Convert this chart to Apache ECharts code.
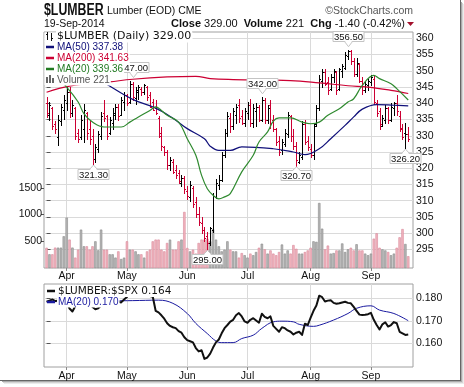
<!DOCTYPE html>
<html><head><meta charset="utf-8">
<script src="https://cdn.jsdelivr.net/npm/echarts@6/dist/echarts.min.js"></script>
<style>html,body{margin:0;padding:0;background:#fff}#c{width:464px;height:387px}</style>
</head><body><div id="c"></div>
<script>
// ---- data (bar index 0 = 21-Mar-2014 ... 126 = 19-Sep-2014) ----
const monthIdx = [7, 28, 49, 70, 92, 113];
const monthNames = ['Apr', 'May', 'Jun', 'Jul', 'Aug', 'Sep'];
const priceTicks = [295, 300, 305, 310, 315, 320, 325, 330, 335, 340, 345, 350, 355, 360];
const volTicks = [500, 1000, 1500];
const ratioTicks = [0.16, 0.17, 0.18];

const opens = [
340.0,336.5,338.5,333.5,329.5,334.5,338.0,340.0,343.5,337.0,
338.5,331.0,329.5,332.0,337.0,332.0,330.0,323.0,326.0,330.0,
337.0,336.0,331.0,334.0,336.5,339.0,336.5,340.5,342.5,340.5,
346.0,341.5,343.5,344.5,343.5,345.0,342.5,340.5,338.5,335.5,
331.0,326.5,325.0,321.0,322.0,319.5,318.5,315.5,317.0,313.0,
311.0,314.0,309.5,306.0,303.0,301.0,299.0,297.0,301.0,311.0,
315.0,316.5,324.0,331.0,335.5,333.0,336.5,339.5,336.0,334.0,
337.0,339.5,334.0,337.5,339.0,335.0,341.0,335.0,339.5,335.0,
332.0,328.5,325.5,327.5,330.5,336.0,330.0,327.0,322.0,323.5,
333.5,328.5,326.0,324.0,333.5,338.5,347.0,349.5,346.5,344.5,
348.0,349.5,344.5,350.0,351.0,354.5,356.0,353.0,349.0,352.0,
347.0,344.0,345.5,346.5,347.5,340.0,337.5,333.0,335.0,338.5,
335.0,338.5,340.0,336.0,332.5,331.0,330.5];
const highs = [
341.9,340.5,338.8,334.5,336.3,339.9,342.5,345.0,345.0,341.0,
339.0,332.2,336.3,339.9,337.3,334.8,332.2,327.5,331.5,337.3,
340.9,336.3,335.8,338.4,339.9,339.9,341.9,343.5,343.0,347.0,
346.5,345.0,345.5,345.0,345.8,345.2,343.5,341.4,341.0,336.0,
332.7,327.0,325.5,323.5,323.0,321.0,319.5,318.0,317.5,314.5,
316.0,314.5,311.0,308.0,305.0,302.0,300.5,302.0,312.5,316.8,
317.8,325.0,332.0,337.3,337.0,338.5,339.9,341.4,338.0,338.5,
340.4,341.4,339.9,340.0,339.5,342.0,341.5,339.5,341.0,336.5,
332.5,330.0,329.0,332.0,337.3,336.3,332.0,328.0,325.0,334.5,
335.0,330.0,327.5,334.0,339.4,348.6,350.7,350.5,348.0,349.0,
350.7,350.0,351.0,352.0,355.8,356.5,356.3,354.0,354.0,352.5,
348.0,346.6,347.5,348.6,348.6,341.0,338.4,336.5,339.5,339.0,
340.0,340.5,342.4,337.5,333.5,334.0,332.7];
const lows = [
335.8,335.0,332.2,331.0,327.1,333.2,335.3,337.8,335.8,336.0,
329.0,328.1,329.0,328.1,329.1,327.6,321.3,322.0,325.0,329.1,
334.5,329.1,330.6,332.2,335.3,334.8,336.3,337.8,339.5,340.0,
341.0,339.9,341.4,342.5,343.0,341.0,338.9,337.8,336.8,329.6,
325.5,324.0,319.9,319.5,318.5,317.0,315.5,314.5,312.5,310.5,
310.0,308.0,305.0,302.5,300.0,297.5,295.0,296.5,300.5,310.7,
313.7,316.0,323.5,330.0,331.2,332.2,334.0,334.2,333.5,333.0,
335.3,333.0,332.8,333.0,334.5,334.5,334.0,334.0,332.5,331.5,
327.1,324.0,324.5,327.0,329.5,328.5,326.0,320.7,321.5,323.0,
327.5,325.5,323.5,323.0,333.0,338.0,345.0,345.5,343.0,344.0,
346.5,343.0,344.0,348.0,350.5,353.5,352.0,348.5,348.5,346.5,
343.0,343.5,344.0,345.5,339.9,336.0,332.2,333.0,334.0,334.0,
334.5,336.5,336.5,331.5,329.0,326.2,328.5];
const closes = [
337.0,339.5,333.0,332.0,335.0,339.0,341.0,343.5,337.0,339.5,
330.0,329.0,335.0,338.0,331.0,329.0,323.0,326.5,330.5,336.0,
335.5,330.0,335.0,337.0,339.0,336.0,341.0,342.5,340.0,346.0,
342.0,344.0,345.0,343.5,345.5,342.0,339.0,338.0,337.0,330.0,
327.0,325.0,321.0,322.5,319.0,318.0,316.0,317.0,313.5,311.5,
315.0,309.0,306.0,303.5,301.0,298.5,297.0,301.5,311.5,315.5,
316.5,324.0,331.0,336.0,333.0,337.5,339.0,335.5,334.0,337.5,
339.5,334.0,338.5,339.0,335.0,341.0,335.0,338.5,334.0,332.0,
328.0,325.0,328.0,331.0,336.5,330.0,327.0,322.5,324.0,333.5,
328.0,326.5,324.0,333.0,338.5,347.5,349.5,346.0,344.0,348.0,
350.0,344.0,350.5,351.5,355.0,356.0,353.0,349.0,352.5,347.0,
344.0,346.0,347.0,348.0,340.5,337.0,333.5,335.5,338.5,335.0,
339.0,340.0,337.5,332.0,329.5,330.4,329.0];
const volumes = [
380,257,257,382,382,382,594,944,532,382,
195,344,719,407,407,344,407,500,332,719,
344,344,257,257,195,312,169,195,500,344,
344,312,257,257,195,312,344,500,532,532,
344,312,469,532,344,344,500,532,1050,375,
312,344,270,469,532,532,550,500,725,532,
407,312,344,500,344,312,312,195,280,240,
195,270,240,300,380,455,350,270,330,270,
240,300,440,270,330,270,430,360,270,270,
300,330,380,500,490,1218,737,350,420,270,
280,330,330,460,300,350,380,330,445,330,
330,270,240,270,550,650,380,350,330,300,
240,270,380,575,730,450,221];
// moving averages at sample bars: [bar, value]
const ma50 = [[0,353.0],[8,351.5],[14,349.0],[20,346.3],[30,341.2],[38,338.5],[44,335.4],[49,332.2],[55,329.1],[57,326.8],[60,325.5],[64,325.5],[68,326.6],[79,326.0],[86,325.0],[90,324.2],[95,326.0],[99,329.1],[104,333.2],[107,335.8],[110,338.2],[115,339.6],[121,339.4],[126,339.2]];
const ma200 = [[0,343.4],[8,345.3],[22,346.6],[30,347.4],[42,348.1],[52,348.3],[57,347.6],[65,347.3],[85,347.0],[95,346.3],[105,345.4],[112,345.0],[120,344.0],[126,343.0]];
const ma20 = [[0,348.0],[4,347.5],[7,345.0],[11,340.4],[13,336.8],[16,334.2],[20,332.7],[26,332.7],[29,334.2],[32,335.8],[36,337.8],[38,338.9],[40,337.8],[42,336.3],[46,334.2],[49,329.1],[52,324.0],[54,317.8],[56,313.7],[58,311.7],[60,310.6],[62,311.2],[64,312.2],[68,318.9],[72,324.0],[74,328.1],[77,331.2],[79,334.5],[81,335.5],[85,335.5],[89,334.2],[92,333.7],[95,334.2],[98,336.3],[102,338.3],[105,340.4],[107,341.4],[110,345.5],[114,348.6],[116,347.6],[120,346.0],[122,344.5],[126,341.0]];
// $LUMBER:$SPX ratio, one value per bar
const ratio = [
0.1785,0.1790,0.1795,0.1788,0.1790,0.1785,0.1792,0.1780,0.1755,0.1742,
0.1765,0.1780,0.1790,0.1792,0.1785,0.1780,0.1762,0.1752,0.1756,0.1768,
0.1780,0.1788,0.1785,0.1790,0.1792,0.1785,0.1782,0.1795,0.1806,0.1825,
0.1830,0.1835,0.1840,0.1835,0.1832,0.1822,0.1810,0.1807,0.1745,0.1738,
0.1725,0.1710,0.1690,0.1678,0.1672,0.1668,0.1655,0.1648,0.1628,0.1615,
0.1610,0.1605,0.1580,0.1565,0.1570,0.1532,0.1538,0.1555,0.1582,0.1605,
0.1618,0.1645,0.1668,0.1682,0.1697,0.1705,0.1725,0.1735,0.1720,0.1698,
0.1692,0.1705,0.1712,0.1702,0.1692,0.1732,0.1718,0.1712,0.1720,0.1678,
0.1665,0.1652,0.1672,0.1668,0.1658,0.1652,0.1640,0.1648,0.1652,0.1638,
0.1688,0.1682,0.1715,0.1745,0.1768,0.1812,0.1805,0.1786,0.1790,0.1792,
0.1780,0.1776,0.1778,0.1782,0.1785,0.1780,0.1778,0.1762,0.1745,0.1728,
0.1726,0.1727,0.1730,0.1736,0.1705,0.1682,0.1662,0.1685,0.1694,0.1675,
0.1682,0.1695,0.1690,0.1652,0.1645,0.1638,0.1640];
const ratioMA = [[0,0.1785],[23,0.1789],[30,0.1790],[39,0.1792],[44,0.1778],[49,0.1733],[52,0.1689],[56,0.1644],[59,0.1611],[61,0.1604],[65,0.1604],[68,0.1622],[72,0.1637],[75,0.1667],[79,0.1696],[82,0.1699],[86,0.1696],[88,0.1685],[93,0.1676],[95,0.1681],[100,0.1704],[105,0.1733],[108,0.1756],[113,0.1767],[116,0.1748],[121,0.1733],[126,0.1701]];
// annotated highs / lows: bar, value, side (1 above, -1 below)
const annIdx = [16, 30, 56, 75, 87, 105, 125];
const annVal = [321.30, 347.00, 295.00, 342.00, 320.70, 356.50, 326.20];
const annSide = [-1, 1, -1, 1, -1, 1, -1];

// ---- build ----
const RED = '#cc0033';
const up = closes.map((c, i) => i === 0 ? c >= opens[0] : c >= closes[i - 1]);
const ohlcData = closes.map((c, i) => [i, opens[i], highs[i], lows[i], c, up[i] ? 1 : 0]);
const volData = volumes.map((v, i) => ({
  value: [i, v],
  itemStyle: up[i] ? {color: '#b6b6b6', borderColor: '#8a8a8a', borderWidth: 0.6}
                   : {color: '#f1b5be', borderColor: '#d9889a', borderWidth: 0.6}
}));
const annData = annIdx.map((x, k) => [x, annVal[k], annSide[k]]);
const FONT = 'Liberation Sans, Arial, sans-serif';

function renderOHLC(params, api) {
  const i = api.value(0);
  const pO = api.coord([i, api.value(1)]);
  const pH = api.coord([i, api.value(2)]);
  const pL = api.coord([i, api.value(3)]);
  const pC = api.coord([i, api.value(4)]);
  const color = api.value(5) ? '#000000' : RED;
  const cx = Math.round(pH[0]) + 0.5;
  const oy = Math.round(pO[1]) + 0.5, cy = Math.round(pC[1]) + 0.5;
  return {type: 'group', children: [
    {type: 'line', shape: {x1: cx, y1: Math.round(pH[1]), x2: cx, y2: Math.round(pL[1]) + 1}, style: {stroke: color, lineWidth: 1}},
    {type: 'line', shape: {x1: cx - 1.5, y1: oy, x2: cx, y2: oy}, style: {stroke: color, lineWidth: 1}},
    {type: 'line', shape: {x1: cx, y1: cy, x2: cx + 1.5, y2: cy}, style: {stroke: color, lineWidth: 1}}
  ]};
}
function renderAnn(params, api) {
  const i = api.value(0), v = api.value(1), side = api.value(2);
  const p = api.coord([i, v]);
  const x = Math.round(p[0]) + 0.5;
  const w = 31, h = 10;
  let tipY, baseY, boxY;
  if (side > 0) { tipY = p[1] - 3; baseY = tipY - 6; boxY = baseY - h; }
  else { tipY = p[1] + 1; baseY = tipY + 3.5; boxY = baseY; }
  boxY = Math.round(boxY) + 0.5;
  return {type: 'group', children: [
    {type: 'rect', shape: {x: x - w / 2, y: boxY, width: w, height: h}, style: {fill: '#fff', stroke: '#c4c4c4', lineWidth: 1}},
    {type: 'polygon', shape: {points: [[x - 4, side > 0 ? boxY + h : boxY], [x + 4, side > 0 ? boxY + h : boxY], [x, tipY]]}, style: {fill: '#fff', stroke: '#c4c4c4', lineWidth: 1}},
    {type: 'line', shape: {x1: x - 3.2, y1: side > 0 ? boxY + h : boxY, x2: x + 3.2, y2: side > 0 ? boxY + h : boxY}, style: {stroke: '#fff', lineWidth: 1.2}},
    {type: 'text', x: x, y: boxY + h / 2 + 0.5, style: {text: v.toFixed(2), fill: '#111', font: '9.5px ' + FONT, align: 'center', verticalAlign: 'middle'}}
  ]};
}

const xAxisCommon = (gi, margin) => ({
  type: 'value', gridIndex: gi, min: -0.9, max: 127.66,
  axisLine: {show: false},
  axisTick: {show: true, customValues: monthIdx, length: 3, lineStyle: {color: '#888'}},
  axisLabel: {customValues: monthIdx, margin: margin, color: '#111', fontSize: 10.5, fontFamily: FONT,
    formatter: v => monthNames[monthIdx.indexOf(v)] || ''},
  splitLine: {show: true, lineStyle: {color: '#dadada', width: 1}}
});

function legendText(x, y, text, color, font) {
  return {type: 'text', x: x, y: y, z: 100, style: {text: text, fill: color, font: font, verticalAlign: 'middle', backgroundColor: '#fff', padding: [1, 1, 0, 1]}};
}
function legendLine(x, y, color, w) {
  return {type: 'line', z: 101, shape: {x1: x, y1: y, x2: x + 8, y2: y}, style: {stroke: color, lineWidth: w || 2.5}};
}

const graphic = [
  // header
  {type: 'text', x: 44, y: 3, scaleX: 0.77, style: {text: '$LUMBER', font: 'bold 16px ' + FONT, fill: '#111'}},
  {type: 'text', x: 107, y: 11, style: {text: 'Lumber (EOD) CME', font: '10.5px ' + FONT, fill: '#111', verticalAlign: 'middle'}},
  {type: 'text', x: 413, y: 11, style: {text: '\u00a9StockCharts.com', font: '10.5px ' + FONT, fill: '#555', align: 'right', verticalAlign: 'middle'}},
  {type: 'text', x: 44, y: 24, style: {text: '19-Sep-2014', font: '10.5px ' + FONT, fill: '#111', verticalAlign: 'middle'}},
  {type: 'text', x: 405, y: 24, style: {text: '{b|Close} 329.00  {b|Volume} 221  {b|Chg} -1.40 (-0.42%)', font: '11px ' + FONT, fill: '#111', align: 'right', verticalAlign: 'middle',
    rich: {b: {font: 'bold 11px ' + FONT, fill: '#111'}}}},
  {type: 'polygon', shape: {points: [[407, 22], [414, 22], [410.5, 26]]}, style: {fill: '#a3102c'}},
  // top legend (opaque block)
  {type: 'rect', z: 99, shape: {x: 44.5, y: 32.5, width: 148, height: 9}, style: {fill: '#fff'}},
  {type: 'rect', z: 99, shape: {x: 44.5, y: 41, width: 62, height: 44}, style: {fill: '#fff'}},
  {type: 'line', z: 101, shape: {x1: 47.5, y1: 32, x2: 47.5, y2: 40}, style: {stroke: '#111', lineWidth: 1}},
  {type: 'line', z: 101, shape: {x1: 46, y1: 34.5, x2: 47.5, y2: 34.5}, style: {stroke: '#111', lineWidth: 1}},
  {type: 'line', z: 101, shape: {x1: 51.5, y1: 33, x2: 51.5, y2: 41}, style: {stroke: '#111', lineWidth: 1}},
  {type: 'line', z: 101, shape: {x1: 51.5, y1: 38.5, x2: 53, y2: 38.5}, style: {stroke: '#111', lineWidth: 1}},
  legendText(56, 36.5, '$LUMBER (Daily) 329.00', '#111', '11px DejaVu Sans, sans-serif'),
  legendLine(46, 47, '#10107a'), legendText(56, 47, 'MA(50) 337.38', '#10107a', '10px ' + FONT),
  legendLine(46, 58, RED), legendText(56, 58, 'MA(200) 341.63', RED, '10px ' + FONT),
  legendLine(46, 69, '#217a21'), legendText(56, 69, 'MA(20) 339.36', '#217a21', '10px ' + FONT),
  {type: 'rect', z: 101, shape: {x: 46, y: 77, width: 2, height: 6}, style: {fill: '#666'}},
  {type: 'rect', z: 101, shape: {x: 49, y: 75, width: 2, height: 8}, style: {fill: '#666'}},
  {type: 'rect', z: 101, shape: {x: 52, y: 78, width: 2, height: 5}, style: {fill: '#666'}},
  legendText(56, 80, 'Volume 221', '#555', '10px ' + FONT),
  // bottom legend
  legendLine(47, 291, '#111'), legendText(57, 291, '$LUMBER:$SPX 0.164', '#111', '10.5px DejaVu Sans, sans-serif'),
  legendLine(47, 302, '#1a1aa0'), legendText(57, 302, 'MA(20) 0.170', '#1a1aa0', '10px ' + FONT),
  // image frame shadow
  {type: 'line', shape: {x1: 460.5, y1: 0, x2: 460.5, y2: 381}, style: {stroke: '#666', lineWidth: 1}},
  {type: 'line', shape: {x1: 0, y1: 380.5, x2: 461, y2: 380.5}, style: {stroke: '#666', lineWidth: 1}},
  {type: 'line', shape: {x1: 461.5, y1: 2, x2: 461.5, y2: 382}, style: {stroke: '#aaa', lineWidth: 1}},
  {type: 'line', shape: {x1: 2, y1: 381.5, x2: 462, y2: 381.5}, style: {stroke: '#aaa', lineWidth: 1}},
  {type: 'line', shape: {x1: 462.5, y1: 3, x2: 462.5, y2: 383}, style: {stroke: '#d4d4d4', lineWidth: 1}},
  {type: 'line', shape: {x1: 3, y1: 382.5, x2: 463, y2: 382.5}, style: {stroke: '#d4d4d4', lineWidth: 1}},
  {type: 'line', shape: {x1: 463.5, y1: 4, x2: 463.5, y2: 384}, style: {stroke: '#ececec', lineWidth: 1}},
  {type: 'line', shape: {x1: 4, y1: 383.5, x2: 464, y2: 383.5}, style: {stroke: '#ececec', lineWidth: 1}}
];

const option = {
  animation: false,
  backgroundColor: '#fff',
  grid: [
    {left: 44, top: 32, width: 369, height: 236, show: true, borderColor: '#a0a0a0', borderWidth: 1},
    {left: 44, top: 284, width: 369, height: 83, show: true, borderColor: '#a0a0a0', borderWidth: 1}
  ],
  xAxis: [xAxisCommon(0, 3), xAxisCommon(1, 4)],
  yAxis: [
    {type: 'value', gridIndex: 0, position: 'right', min: 289.3, max: 361.94,
      axisLine: {show: false},
      axisTick: {show: true, customValues: priceTicks, length: 4, lineStyle: {color: '#555'}},
      axisLabel: {customValues: priceTicks, margin: 3, color: '#111', fontSize: 10.5, fontFamily: FONT},
      splitLine: {show: true, lineStyle: {color: '#dadada'}}},
    {type: 'value', gridIndex: 0, position: 'left', min: 0, max: 4419,
      axisLine: {show: false},
      axisTick: {show: true, customValues: volTicks, length: 3, lineStyle: {color: '#555'}},
      axisLabel: {customValues: volTicks, margin: 2, color: '#111', fontSize: 10.5, fontFamily: FONT, formatter: v => String(v)},
      splitLine: {show: false}},
    {type: 'value', gridIndex: 1, position: 'right', min: 0.1496, max: 0.18636,
      axisLine: {show: false},
      axisTick: {show: true, customValues: ratioTicks, length: 4, lineStyle: {color: '#555'}},
      axisLabel: {customValues: ratioTicks, margin: 3, color: '#111', fontSize: 10.5, fontFamily: FONT, formatter: v => v.toFixed(3)},
      splitLine: {show: true, lineStyle: {color: '#dadada'}}}
  ],
  series: [
    {type: 'bar', xAxisIndex: 0, yAxisIndex: 1, data: volData, barWidth: 2.4, z: 1, silent: true},
    {type: 'custom', xAxisIndex: 0, yAxisIndex: 0, renderItem: renderOHLC, data: ohlcData, encode: {x: 0, y: [2, 3]}, z: 3, clip: true, silent: true},
    {type: 'line', xAxisIndex: 0, yAxisIndex: 0, data: ma200, smooth: 0.4, showSymbol: false, lineStyle: {color: RED, width: 1.2}, z: 4, silent: true},
    {type: 'line', xAxisIndex: 0, yAxisIndex: 0, data: ma50, smooth: 0.4, showSymbol: false, lineStyle: {color: '#10107a', width: 1.2}, z: 4, silent: true},
    {type: 'line', xAxisIndex: 0, yAxisIndex: 0, data: ma20, smooth: 0.4, showSymbol: false, lineStyle: {color: '#2f8a2f', width: 1.2}, z: 4, silent: true},
    {type: 'custom', xAxisIndex: 0, yAxisIndex: 0, renderItem: renderAnn, data: annData, encode: {x: 0, y: 1}, z: 6, clip: false, silent: true},
    {type: 'line', xAxisIndex: 1, yAxisIndex: 2, data: ratioMA, smooth: 0.4, showSymbol: false, lineStyle: {color: '#1a1aa0', width: 1}, z: 4, silent: true},
    {type: 'line', xAxisIndex: 1, yAxisIndex: 2, data: ratio.map((v, i) => [i, v]), showSymbol: false, lineStyle: {color: '#111', width: 2, join: 'round'}, z: 5, silent: true}
  ],
  graphic: graphic
};
const chart = echarts.init(document.getElementById('c'), null, {renderer: 'canvas'});
chart.setOption(option);
</script>
</body></html>
